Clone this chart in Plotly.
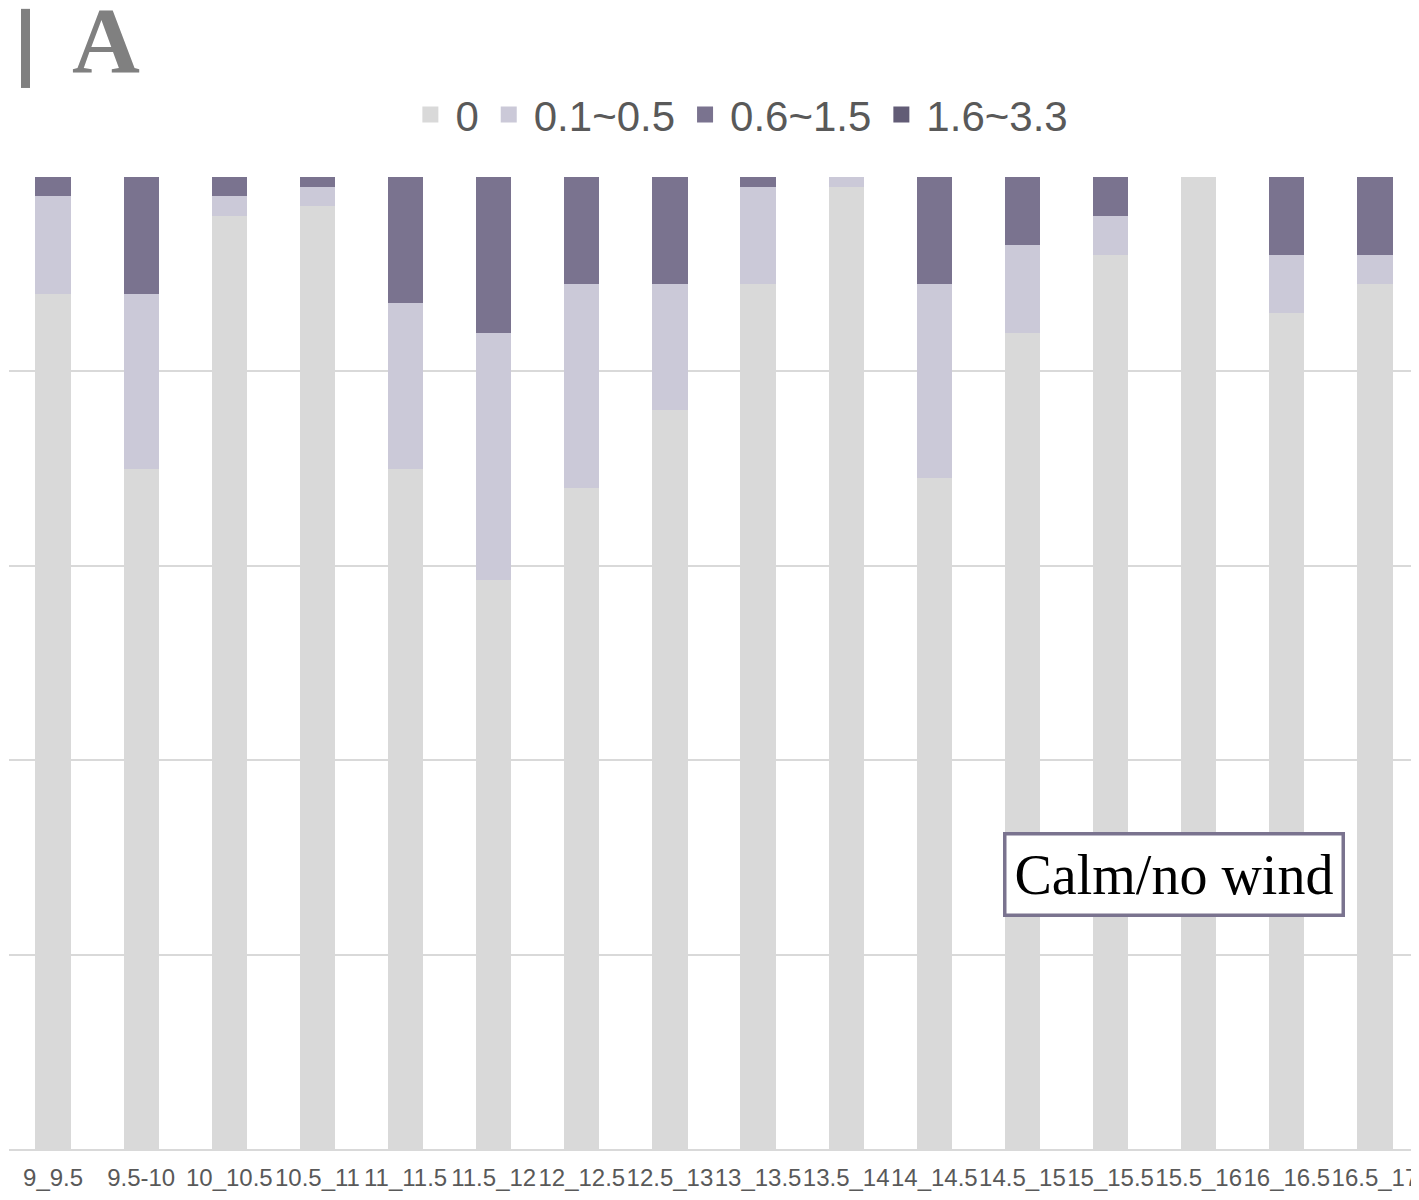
import plotly.graph_objects as go

# fasce orarie
categories = ['9_9.5', '9.5-10', '10_10.5', '10.5_11', '11_11.5', '11.5_12', '12_12.5', '12.5_13',
              '13_13.5', '13.5_14', '14_14.5', '14.5_15', '15_15.5', '15.5_16', '16_16.5', '16.5_17']

# percentuali per classe di velocita del vento
wind_0 = [88, 70, 96, 97, 70, 58.5, 68, 76, 89, 99, 69, 84, 92, 100, 86, 89]
wind_01_05 = [10, 18, 2, 2, 17, 25.5, 21, 13, 10, 1, 20, 9, 4, 0, 6, 3]
wind_06_15 = [2, 12, 2, 1, 13, 16, 11, 11, 1, 0, 11, 7, 4, 0, 8, 8]
wind_16_33 = [0, 0, 0, 0, 0, 0, 0, 0, 0, 0, 0, 0, 0, 0, 0, 0]

series = [
    ('0', wind_0, 'rgb(217,217,217)'),
    ('0.1~0.5', wind_01_05, 'rgb(203,201,216)'),
    ('0.6~1.5', wind_06_15, 'rgb(122,115,143)'),
    ('1.6~3.3', wind_16_33, 'rgb(98,92,118)'),
]

fig = go.Figure()
for name, vals, col in series:
    fig.add_trace(go.Bar(x=categories, y=vals, name=name, marker_color=col,
                         marker_line_width=0, showlegend=False, legendgroup=name))
    # voce di legenda con quadratino piu grande
    fig.add_trace(go.Scatter(x=[None], y=[None], mode='markers', name=name, legendgroup=name,
                             marker=dict(symbol='square', size=16, color=col)))

fig.update_layout(
    barmode='stack',
    barnorm='percent',
    bargap=0.6,
    width=1411, height=1192,
    margin=dict(l=1, r=0, t=169, b=51),
    plot_bgcolor='white', paper_bgcolor='white',
    font=dict(family='Liberation Sans, Arial, sans-serif', color='#595959'),
    showlegend=True,
    legend=dict(orientation='h', x=0.518, xanchor='center', y=1.064, yanchor='middle',
                font=dict(size=42, color='#595959'), itemwidth=40, traceorder='normal'),
)
fig.update_xaxes(tickfont=dict(size=24, color='#595959'), tickangle=0, showline=True,
                 linecolor='#D9D9D9', linewidth=2, ticks='', ticklabelstandoff=6)
fig.update_yaxes(range=[0, 100], dtick=20, showticklabels=False, gridcolor='#D9D9D9',
                 gridwidth=1.5, zeroline=False)

# etichetta pannello
fig.add_shape(type='rect', xref='paper', yref='paper', x0=0.0085, x1=0.0149, y0=1.0916, y1=1.173,
              fillcolor='#808080', line_width=0)
fig.add_annotation(xref='paper', yref='paper', x=0.0685, y=1.141, xanchor='center', yanchor='middle',
                   text='<b>A</b>', showarrow=False,
                   font=dict(family='Liberation Serif, serif', size=94, color='#808080'))

# riquadro
fig.add_annotation(xref='paper', yref='paper', x=0.826, y=0.282, xanchor='center', yanchor='middle',
                   text='Calm/no wind', showarrow=False,
                   font=dict(family='Liberation Serif, serif', size=56, color='black'),
                   bgcolor='white', bordercolor='#7A738F', borderwidth=3.5, borderpad=8)

fig.write_html('out.html')
